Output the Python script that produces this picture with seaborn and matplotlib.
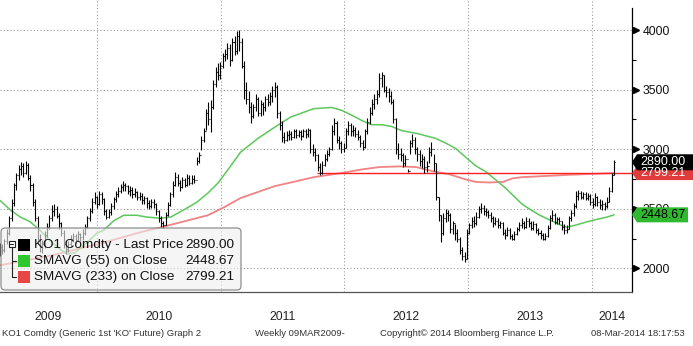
import matplotlib
matplotlib.use("Agg")
import matplotlib.pyplot as plt
import matplotlib.dates as mdates
import matplotlib.transforms as mtransforms
from matplotlib.patches import FancyBboxPatch, Polygon, Rectangle
from matplotlib.lines import Line2D
import pandas as pd
import seaborn as sns

# Weekly bars of KO1 Comdty, weeks ending 13-Mar-2009 .. 07-Mar-2014
week_close = [
    2120, 2180, 2150, 2230, 2300, 2420, 2550, 2700, 2780, 2830,
    2860, 2800, 2870, 2760, 2700, 2560, 2420, 2250, 2180, 2200,
    2280, 2350, 2420, 2480, 2500, 2440, 2380, 2300, 2200, 2160,
    2200, 2250, 2270, 2240, 2290, 2260, 2300, 2350, 2420, 2480,
    2560, 2600, 2540, 2620, 2580, 2480, 2430, 2470, 2520, 2580,
    2620, 2650, 2680, 2700, 2690, 2650, 2660, 2620, 2640, 2600,
    2610, 2570, 2590, 2550, 2520, 2560, 2540, 2480, 2420, 2380,
    2360, 2450, 2530, 2620, 2700, 2770, 2720, 2680, 2740, 2700,
    2760, 2720, 2750, 2740, 2900, 2950, 3080, 3150, 3300, 3250,
    3350, 3550, 3650, 3620, 3700, 3780, 3800, 3850, 3750, 3900,
    3820, 3950, 3900, 3700, 3500, 3420, 3350, 3280, 3350, 3420,
    3300, 3380, 3350, 3420, 3400, 3450, 3500, 3520, 3300, 3200,
    3100, 3080, 3120, 3130, 3100, 3150, 3120, 3140, 3110, 3150,
    3130, 3160, 3000, 2980, 2950, 2850, 2800, 2870, 2920, 2960,
    3000, 3150, 3220, 3080, 3050, 3000, 3010, 3150, 3200, 3150,
    3160, 3130, 3100, 3050, 3020, 3150, 3230, 3300, 3380, 3420,
    3460, 3600, 3620, 3500, 3480, 3450, 3400, 3250, 3000, 2960,
    2950, 2880, 2920, 2820, 3050, 3080, 3000, 2960, 2900, 2920,
    2850, 2860, 2980, 3000, 2880, 2600, 2450, 2300, 2420, 2460,
    2450, 2330, 2380, 2300, 2250, 2150, 2100, 2080, 2300, 2360,
    2400, 2380, 2430, 2500, 2510, 2480, 2470, 2450, 2420, 2380,
    2400, 2360, 2380, 2300, 2280, 2320, 2270, 2250, 2290, 2330,
    2360, 2380, 2350, 2400, 2380, 2340, 2370, 2320, 2300, 2280,
    2250, 2270, 2340, 2420, 2450, 2390, 2410, 2400, 2350, 2320,
    2330, 2420, 2460, 2520, 2610, 2630, 2600, 2620, 2590, 2610,
    2560, 2540, 2600, 2560, 2530, 2540, 2520, 2560, 2650, 2780,
    2890,
]
week_high = [
    2160, 2210, 2200, 2250, 2330, 2440, 2580, 2720, 2800, 2870,
    2890, 2880, 2900, 2880, 2780, 2720, 2580, 2440, 2290, 2240,
    2310, 2380, 2450, 2530, 2540, 2520, 2460, 2390, 2320, 2230,
    2230, 2280, 2300, 2290, 2310, 2300, 2330, 2370, 2440, 2510,
    2590, 2640, 2610, 2650, 2640, 2590, 2500, 2500, 2550, 2600,
    2650, 2680, 2710, 2730, 2720, 2700, 2690, 2680, 2670, 2650,
    2640, 2630, 2610, 2600, 2570, 2580, 2580, 2550, 2490, 2440,
    2400, 2470, 2560, 2640, 2730, 2810, 2790, 2740, 2770, 2760,
    2790, 2780, 2780, 2780, 2930, 2980, 3110, 3180, 3340, 3400,
    3410, 3580, 3690, 3720, 3730, 3810, 3840, 3890, 3880, 3930,
    3950, 3990, 4000, 3930, 3740, 3560, 3490, 3400, 3380, 3460,
    3440, 3410, 3400, 3450, 3460, 3480, 3530, 3560, 3540, 3320,
    3240, 3140, 3150, 3160, 3150, 3170, 3170, 3160, 3160, 3170,
    3170, 3180, 3170, 3040, 3010, 2960, 2880, 2900, 2960, 2990,
    3020, 3200, 3265, 3240, 3110, 3070, 3050, 3180, 3240, 3220,
    3200, 3190, 3160, 3120, 3080, 3170, 3260, 3350, 3420, 3460,
    3500, 3640, 3645, 3620, 3530, 3510, 3490, 3420, 3260, 3050,
    3010, 2970, 2950, 2830, 3080, 3130, 3100, 3020, 2990, 2960,
    2940, 2900, 3020, 3060, 2960, 2880, 2600, 2450, 2460, 2500,
    2490, 2460, 2400, 2370, 2330, 2260, 2180, 2140, 2330, 2380,
    2430, 2440, 2470, 2520, 2545, 2530, 2505, 2490, 2470, 2440,
    2430, 2420, 2400, 2390, 2330, 2350, 2340, 2290, 2310, 2350,
    2390, 2420, 2400, 2430, 2420, 2400, 2400, 2380, 2340, 2320,
    2300, 2300, 2360, 2450, 2490, 2460, 2430, 2430, 2400, 2370,
    2360, 2440, 2490, 2550, 2650, 2655, 2650, 2640, 2640, 2630,
    2620, 2590, 2630, 2610, 2580, 2570, 2560, 2600, 2680, 2800,
    2905,
]
week_low = [
    2060, 2100, 2120, 2140, 2200, 2280, 2400, 2520, 2660, 2740,
    2780, 2770, 2790, 2740, 2650, 2520, 2400, 2220, 2140, 2130,
    2170, 2260, 2330, 2400, 2440, 2420, 2330, 2270, 2170, 2120,
    2140, 2180, 2220, 2210, 2230, 2230, 2240, 2280, 2340, 2400,
    2460, 2540, 2510, 2530, 2540, 2450, 2410, 2420, 2450, 2500,
    2560, 2600, 2630, 2650, 2650, 2620, 2610, 2590, 2600, 2570,
    2570, 2540, 2540, 2510, 2500, 2510, 2510, 2450, 2390, 2350,
    2340, 2360, 2440, 2520, 2600, 2690, 2690, 2650, 2670, 2680,
    2690, 2700, 2710, 2720, 2870, 2880, 2990, 3060, 3160, 3200,
    3140, 3340, 3520, 3580, 3590, 3680, 3740, 3760, 3700, 3740,
    3790, 3800, 3820, 3680, 3420, 3380, 3300, 3220, 3260, 3320,
    3280, 3280, 3290, 3320, 3360, 3370, 3400, 3440, 3260, 3160,
    3060, 3050, 3070, 3080, 3080, 3090, 3090, 3100, 3080, 3100,
    3090, 3100, 2970, 2940, 2900, 2820, 2780, 2790, 2860, 2900,
    2940, 2990, 3120, 3050, 3000, 2970, 2980, 3010, 3120, 3110,
    3110, 3100, 3080, 3020, 2990, 3010, 3130, 3210, 3290, 3340,
    3380, 3440, 3520, 3480, 3440, 3400, 3380, 3220, 2960, 2920,
    2900, 2850, 2860, 2810, 2960, 3020, 2960, 2900, 2860, 2840,
    2800, 2810, 2880, 2940, 2820, 2570, 2400, 2220, 2280, 2390,
    2400, 2300, 2290, 2240, 2220, 2120, 2070, 2050, 2080, 2290,
    2340, 2350, 2360, 2420, 2460, 2450, 2440, 2420, 2390, 2350,
    2360, 2340, 2340, 2280, 2250, 2270, 2250, 2235, 2240, 2280,
    2310, 2340, 2330, 2340, 2350, 2320, 2320, 2300, 2280, 2250,
    2235, 2240, 2260, 2330, 2400, 2370, 2370, 2375, 2320, 2290,
    2300, 2330, 2400, 2440, 2510, 2570, 2580, 2580, 2570, 2570,
    2530, 2510, 2520, 2520, 2500, 2490, 2490, 2510, 2560, 2640,
    2780,
]
week_dates = pd.date_range("2009-03-13", periods=len(week_close), freq="7D")

# 55-week simple moving average of the close
ma55_dates = [
    "2009-03-21", "2009-04-20", "2009-05-19", "2009-06-18", "2009-07-17",
    "2009-08-16", "2009-09-14", "2009-10-05", "2009-10-28", "2009-11-27",
    "2010-01-01", "2010-01-21", "2010-02-20", "2010-03-21", "2010-04-29",
    "2010-05-28", "2010-07-08", "2010-08-07", "2010-09-14", "2010-10-23",
    "2010-11-24", "2010-12-24", "2011-01-22", "2011-03-01", "2011-04-21",
    "2011-06-10", "2011-07-27", "2011-10-03", "2011-11-25", "2011-12-25",
    "2012-01-23", "2012-02-22", "2012-03-22", "2012-04-21", "2012-05-20",
    "2012-06-19", "2012-08-05", "2012-09-27", "2012-10-27", "2012-11-25",
    "2012-12-25", "2013-01-23", "2013-02-22", "2013-03-24", "2013-04-22",
    "2013-05-21", "2013-06-08", "2013-07-02", "2013-07-31", "2013-08-30",
    "2013-09-28", "2013-10-19", "2013-11-17", "2013-12-17", "2014-01-15",
    "2014-02-14", "2014-03-07",
]
ma55_values = [
    2570, 2490, 2432, 2390, 2320,
    2230, 2160, 2120, 2130, 2200,
    2295, 2320, 2400, 2445, 2445,
    2430, 2420, 2430, 2490, 2555,
    2630, 2715, 2825, 2975, 3090,
    3185, 3270, 3340, 3350, 3325,
    3285, 3240, 3205, 3205, 3190,
    3155, 3130, 3090, 3050, 3005,
    2930, 2860, 2810, 2740, 2670,
    2590, 2540, 2495, 2445, 2405,
    2365, 2345, 2365, 2390, 2410,
    2430, 2448.67,
]

# 233-week simple moving average of the close
ma233_dates = [
    "2009-03-21", "2009-08-16", "2010-01-21", "2010-04-29", "2010-08-07",
    "2010-11-24", "2011-01-13", "2011-03-01", "2011-04-21", "2011-06-10",
    "2011-07-27", "2011-10-03", "2011-12-25", "2012-02-22", "2012-04-15",
    "2012-06-13", "2012-07-30", "2012-09-18", "2012-11-05", "2012-12-25",
    "2013-01-23", "2013-03-03", "2013-04-13", "2013-05-12", "2013-06-08",
    "2013-10-28", "2014-03-07",
]
ma233_values = [
    2025, 2105, 2215, 2295, 2365,
    2445, 2515, 2590, 2640, 2690,
    2720, 2765, 2800, 2830, 2850,
    2855, 2850, 2815, 2790, 2745,
    2725, 2720, 2725, 2755, 2765,
    2785, 2799.21,
]

price_ticks = [2000, 2500, 3000, 3500, 4000]
minor_price_ticks = [2250, 2750, 3250, 3750]
year_labels = ["2009", "2010", "2011", "2012", "2013", "2014"]
legend_names = ["KO1 Comdty - Last Price", "SMAVG (55) on Close", "SMAVG (233) on Close"]
last_price = 2890.00
last_ma55 = 2448.67
last_ma233 = 2799.21
level_start = "2011-10-12"

BLACK = "#000000"
GREEN_LINE = "#5cc85c"
PINK_LINE = "#f08484"
RED_LINE = "#ff1f1f"
GREEN_BOX = "#2fb92f"
RED_BOX = "#e23b3b"
GRID = "#9a9a9a"

sns.set_style("white")
plt.rcParams["font.family"] = ["Liberation Sans", "DejaVu Sans"]

W, H = 693, 346
fig = plt.figure(figsize=(W / 100, H / 100), dpi=100)
ax = fig.add_axes([0, 54 / H, 632 / W, 292 / H])
ax.set_facecolor("white")

x_left, x_right = pd.Timestamp("2009-03-21"), pd.Timestamp("2014-04-29")
y_low, y_high = 1801, 4252

# moving averages
sns.lineplot(x=pd.to_datetime(ma233_dates), y=ma233_values, ax=ax,
             color=PINK_LINE, lw=1.3, zorder=2)
sns.lineplot(x=pd.to_datetime(ma55_dates), y=ma55_values, ax=ax,
             color=GREEN_LINE, lw=1.1, zorder=2)
ax.hlines(last_ma233, pd.Timestamp(level_start), x_right, color=RED_LINE,
          lw=1.0, zorder=3)

# OHLC bars
opens = [week_close[0]] + week_close[:-1]
tick = pd.Timedelta(days=3)
ax.vlines(week_dates, week_low, week_high, color=BLACK, lw=0.8, zorder=4)
ax.hlines(opens, week_dates - tick, week_dates, color=BLACK, lw=0.8, zorder=4)
ax.hlines(week_close, week_dates, week_dates + tick, color=BLACK, lw=0.8, zorder=4)

ax.set_xlim(x_left, x_right)
ax.set_ylim(y_low, y_high)
ax.set_xlabel("")
ax.set_ylabel("")

# axes, ticks and grid
for side in ("top", "left"):
    ax.spines[side].set_visible(False)
ax.spines["bottom"].set_color("#555555")
ax.spines["bottom"].set_linewidth(0.9)
ax.spines["right"].set_color(BLACK)
ax.spines["right"].set_linewidth(0.9)
ax.spines["right"].set_bounds(y_low, y_high - 8 * (y_high - y_low) / 292)

ax.xaxis.set_major_locator(mdates.YearLocator())
ax.xaxis.set_minor_locator(mdates.MonthLocator(bymonth=[4, 7, 10]))
ax.tick_params(axis="x", which="major", length=24, width=1.0, color="#8c8c8c",
               labelbottom=False, direction="out")
ax.tick_params(axis="x", which="minor", length=3, width=0.8, color="#333333",
               direction="out")

ax.yaxis.tick_right()
ax.set_yticks(price_ticks)
ax.set_yticks(minor_price_ticks, minor=True)
ax.set_yticklabels([str(v) for v in price_ticks])
ax.tick_params(axis="y", which="major", length=0, pad=7.5, labelsize=8.8,
               labelcolor="#111111", left=False, right=True)
ax.tick_params(axis="y", which="minor", length=3, width=0.8, color=BLACK,
               left=False, right=True, direction="out")

ax.grid(True, which="major", axis="both", color=GRID, lw=0.8,
        linestyle=(0, (1, 2)))
ax.set_axisbelow(True)

tri_trans = (mtransforms.blended_transform_factory(ax.transAxes, ax.transData)
             + mtransforms.ScaledTranslation(3.5 / 100, 0, fig.dpi_scale_trans))
ax.plot([1] * len(price_ticks), price_ticks, marker=">", ms=5, color=BLACK,
        ls="none", transform=tri_trans, clip_on=False, zorder=6)

# year labels centred in each year span
pix = mtransforms.Affine2D().scale(1 / W, 1 / H) + fig.transFigure
bounds = [x_left] + [pd.Timestamp(f"{y}-01-01") for y in range(2010, 2015)] + [x_right]
for i, lab in enumerate(year_labels):
    mid = mdates.date2num(bounds[i]) / 2 + mdates.date2num(bounds[i + 1]) / 2
    ax.text(mid, -25 / 292, lab, transform=mtransforms.blended_transform_factory(
        ax.transData, ax.transAxes), ha="center", va="center", fontsize=8.8,
        color="#222222", clip_on=False)

# legend block
def P(x, y):
    return (x, H - y)

box = FancyBboxPatch(P(1, 290), 240, 62, boxstyle="round,pad=0,rounding_size=4",
                     transform=pix, facecolor="#efefef", alpha=0.62,
                     edgecolor="none", zorder=10)
fig.add_artist(box)
frame = FancyBboxPatch(P(1, 290), 240, 62, boxstyle="round,pad=0,rounding_size=4",
                       transform=pix, facecolor="none", edgecolor="#8f8f8f",
                       lw=0.9, zorder=11)
fig.add_artist(frame)

# expand/collapse tree glyph
fig.add_artist(Line2D([11.5, 11.5], [H - 247, H - 277], transform=pix,
                      color="#222222", lw=0.8, zorder=11))
for yy in (261, 277):
    fig.add_artist(Line2D([11.5, 16], [H - yy, H - yy], transform=pix,
                          color="#222222", lw=0.8, zorder=11))
fig.add_artist(Rectangle(P(8.5, 247), 6, 6, transform=pix, facecolor="white",
                         edgecolor="#222222", lw=0.8, zorder=12))
fig.add_artist(Line2D([9.8, 13.2], [H - 244, H - 244], transform=pix,
                      color="#222222", lw=0.8, zorder=13))

swatches = [BLACK, "#2ec82e", "#e84545"]
values = [last_price, last_ma55, last_ma233]
rows = [245, 261, 277]
for name, val, col, yy in zip(legend_names, values, swatches, rows):
    fig.add_artist(Rectangle(P(18, yy + 6), 12, 12, transform=pix,
                             facecolor=col, edgecolor="none", zorder=12))
    fig.text(34 / W, (H - yy) / H, name, ha="left", va="center",
             fontsize=9.7, color="#111111", zorder=12)
    fig.text(234 / W, (H - yy) / H, f"{val:.2f}", ha="right", va="center",
             fontsize=9.7, color="#111111", zorder=12)

# last-value tags on the price axis
def value_tag(v, face, text_color, half=8, right=693):
    yc = ax.transData.transform((0, v))[1]
    pts = [(632, yc), (637, yc + half), (right, yc + half),
           (right, yc - half), (637, yc - half)]
    fig.add_artist(Polygon(pts, closed=True, transform=pix, facecolor=face,
                           edgecolor="none", zorder=14))
    fig.text(663 / W, yc / H, f"{v:.2f}", ha="center", va="center",
             fontsize=9, color=text_color, zorder=15)

value_tag(last_ma55, GREEN_BOX, BLACK, half=7.5, right=688)
value_tag(last_ma233, RED_BOX, "white", half=7)
value_tag(last_price, BLACK, "white", half=8)

# footer
foot = dict(fontsize=6.8, color="#333333", va="center", ha="left")
fig.text(2 / W, 12 / H, "KO1 Comdty (Generic 1st 'KO' Future) Graph 2", **foot)
fig.text(255 / W, 12 / H, "Weekly 09MAR2009-", **foot)
fig.text(380 / W, 12 / H, "Copyright\u00a9 2014 Bloomberg Finance L.P.", **foot)
fig.text(591 / W, 12 / H, "08-Mar-2014 18:17:53", **foot)

fig.savefig("out.png", dpi=100)
